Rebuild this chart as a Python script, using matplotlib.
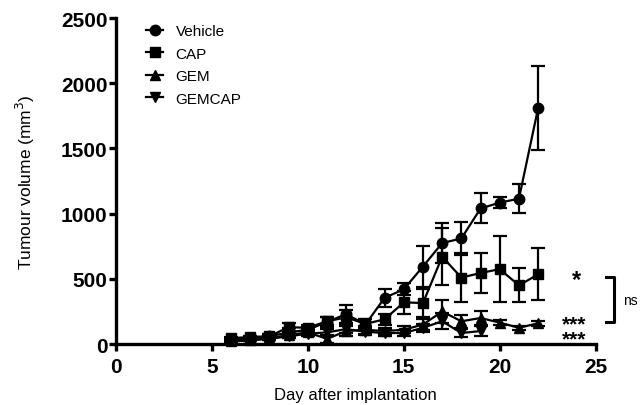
import numpy as np
import matplotlib.pyplot as plt
from matplotlib.lines import Line2D

plt.rcParams['font.family'] = ['Liberation Sans', 'DejaVu Sans']

# Data (mean +/- SEM)
days = [6, 7, 8, 9, 10, 11, 12, 13, 14, 15, 16, 17, 18, 19, 20, 21, 22]
days_gemcap = [6, 7, 8, 9, 10, 11, 12, 13, 14, 15, 16, 17, 18, 19]

vehicle = [30, 45, 60, 90, 110, 170, 230, 150, 355, 420, 595, 775, 810, 1040, 1085, 1115, 1810]
vehicle_sem = [10, 15, 20, 30, 30, 40, 70, 40, 70, 45, 155, 150, 125, 115, 40, 110, 320]

cap = [45, 55, 60, 130, 125, 175, 205, 155, 190, 320, 315, 670, 510, 545, 575, 450, 535]
cap_sem = [10, 10, 15, 30, 25, 30, 60, 35, 40, 90, 105, 220, 185, 155, 255, 130, 200]

gem = [20, 30, 45, 70, 90, 40, 100, 110, 100, 110, 150, 250, 175, 200, 165, 125, 160]
gem_sem = [5, 10, 15, 20, 25, 30, 40, 30, 25, 25, 40, 90, 50, 50, 20, 15, 20]

gemcap = [20, 30, 40, 60, 80, 90, 115, 95, 85, 85, 125, 175, 85, 100]
gemcap_sem = [5, 10, 10, 15, 20, 25, 30, 25, 20, 20, 30, 60, 30, 40]

series = [
    ("Vehicle", days, vehicle, vehicle_sem, "o"),
    ("CAP", days, cap, cap_sem, "s"),
    ("GEM", days, gem, gem_sem, "^"),
    ("GEMCAP", days_gemcap, gemcap, gemcap_sem, "v"),
]

fig = plt.figure(figsize=(6.44, 4.06), dpi=100)
ax = fig.add_axes([0.180, 0.150, 0.745, 0.803])

handles = []
for name, x, y, err, mk in series:
    ax.errorbar(x, y, yerr=err, color="black", marker=mk, markersize=7.5,
                linewidth=1.6, elinewidth=1.6, capsize=5, capthick=1.6,
                clip_on=False)
    handles.append(Line2D([], [], color="black", marker=mk, markersize=7.5,
                          linewidth=1.6, label=name))

ax.set_xlim(0, 25)
ax.set_ylim(0, 2500)
ax.set_xticks([0, 5, 10, 15, 20, 25])
ax.set_yticks([0, 500, 1000, 1500, 2000, 2500])

for side in ["top", "right"]:
    ax.spines[side].set_visible(False)
for side in ["left", "bottom"]:
    ax.spines[side].set_linewidth(2.4)
ax.tick_params(width=2.4, length=5, labelsize=15)
ax.tick_params(axis="x", pad=4)
ax.tick_params(axis="y", pad=1)
for lab in ax.get_xticklabels() + ax.get_yticklabels():
    lab.set_fontweight("bold")

ax.set_xlabel("Day after implantation", fontsize=12, labelpad=8)
ax.set_ylabel("Tumour volume (mm$^3$)", fontsize=12.5, labelpad=17)

ax.legend(handles=handles, loc="upper left", bbox_to_anchor=(0.035, 1.023),
          frameon=False, fontsize=11, handlelength=1.1, handletextpad=0.8,
          labelspacing=0.55)

# significance annotations
ax.text(24.0, 495, "*", fontsize=17, fontweight="bold", ha="center", va="center")
ax.text(23.9, 100, "***\n***", fontsize=15, fontweight="bold", ha="center",
        va="center", linespacing=0.72)
ax.plot([25.55, 25.95, 25.95, 25.55], [515, 515, 170, 170], color="black",
        linewidth=2.2, clip_on=False)
ax.text(26.45, 340, "ns", fontsize=10, ha="left", va="center")

fig.savefig("out.png", dpi=100)
